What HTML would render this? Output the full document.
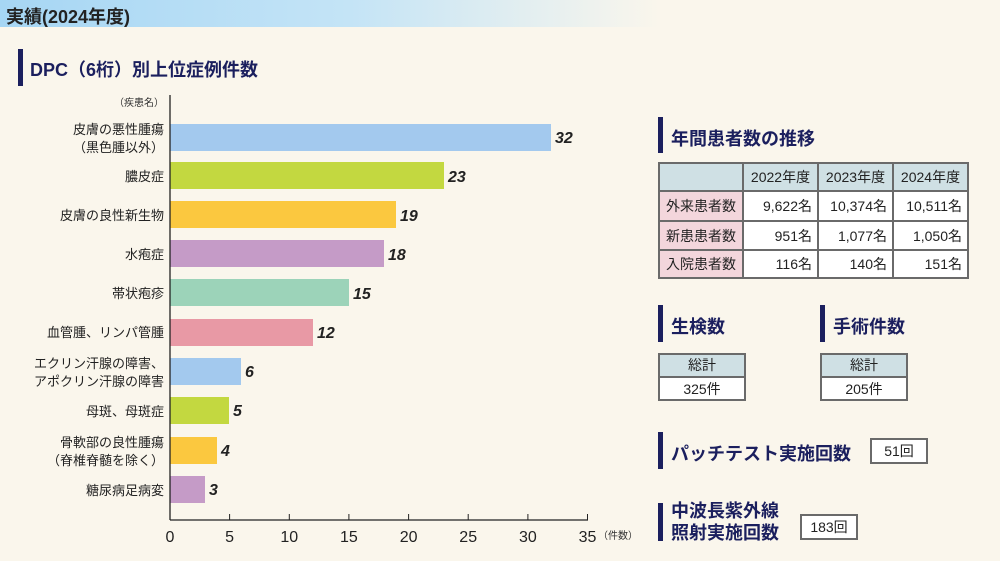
<!DOCTYPE html>
<html><head><meta charset="utf-8"><style>
body{margin:0;width:1000px;height:561px;background:#faf6ec;position:relative;overflow:hidden;font-family:"Liberation Sans","Noto Sans CJK JP",sans-serif;color:#222}
.a{position:absolute}
.hdr{left:0;top:0;width:1000px;height:27px;background:linear-gradient(90deg,#a6d6f4 0%,#c4e4f6 35%,#faf6ec 66%)}
.bar{position:absolute;width:5px;background:#1b1f5e}
.t{position:absolute;color:#1b1f5e;font-weight:bold;font-size:18px;white-space:nowrap}
table{border-collapse:collapse;font-size:14px}
td{border:2px solid #6a6a6a;height:26px;padding:0 5px;text-align:right;background:#fff}
.h td{background:#cfe0e4;text-align:center}
td.r{background:#f3d6dc;text-align:center}
.box{position:absolute;border:2px solid #6a6a6a;background:#fff;text-align:center;font-size:14px}
</style></head><body>
<div class="a hdr"></div>
<div class="a" style="left:6px;top:3px;font-size:18px;font-weight:bold;color:#222">実績(2024年度)</div>
<div class="bar" style="left:18px;top:49px;height:37px"></div>
<div class="t" style="left:30px;top:56px">DPC（6桁）別上位症例件数</div>

<svg class="a" style="left:0;top:0" width="640" height="561">
<g font-family="Liberation Sans,Noto Sans CJK JP,sans-serif">
<text x="164" y="106" font-size="10" text-anchor="end" fill="#333">（疾患名）</text>
<rect x="170" y="124" width="381" height="27" fill="#a3c9ee"/>
<rect x="170" y="162" width="274" height="27" fill="#c3d840"/>
<rect x="170" y="201" width="226" height="27" fill="#fbc83f"/>
<rect x="170" y="240" width="214" height="27" fill="#c59bc7"/>
<rect x="170" y="279" width="179" height="27" fill="#9cd3b9"/>
<rect x="170" y="319" width="143" height="27" fill="#e899a5"/>
<rect x="170" y="358" width="71" height="27" fill="#a3c9ee"/>
<rect x="170" y="397" width="59" height="27" fill="#c3d840"/>
<rect x="170" y="437" width="47" height="27" fill="#fbc83f"/>
<rect x="170" y="476" width="35" height="27" fill="#c59bc7"/>
<g font-size="16" font-weight="bold" font-style="italic" fill="#222">
<text x="555" y="143">32</text><text x="448" y="182">23</text><text x="400" y="221">19</text><text x="388" y="260">18</text><text x="353" y="299">15</text><text x="317" y="338">12</text><text x="245" y="377">6</text><text x="233" y="416">5</text><text x="221" y="456">4</text><text x="209" y="495">3</text></g>
<g font-size="13" text-anchor="end" fill="#222">
<text x="164" y="134">皮膚の悪性腫瘍</text><text x="164" y="152">（黒色腫以外）</text>
<text x="164" y="181">膿皮症</text><text x="164" y="220">皮膚の良性新生物</text><text x="164" y="259">水疱症</text><text x="164" y="298">帯状疱疹</text><text x="164" y="337">血管腫、リンパ管腫</text>
<text x="164" y="368">エクリン汗腺の障害、</text><text x="164" y="386">アポクリン汗腺の障害</text>
<text x="164" y="416">母斑、母斑症</text>
<text x="164" y="447">骨軟部の良性腫瘍</text><text x="164" y="465">（脊椎脊髄を除く）</text>
<text x="164" y="495">糖尿病足病変</text></g>
<line x1="170" y1="95" x2="170" y2="520" stroke="#222" stroke-width="1.3"/>
<line x1="170" y1="520" x2="588" y2="520" stroke="#222" stroke-width="1.3"/>
<g stroke="#222"><line x1="229.6" y1="514" x2="229.6" y2="520"/><line x1="289.3" y1="514" x2="289.3" y2="520"/><line x1="348.9" y1="514" x2="348.9" y2="520"/><line x1="408.6" y1="514" x2="408.6" y2="520"/><line x1="468.2" y1="514" x2="468.2" y2="520"/><line x1="527.9" y1="514" x2="527.9" y2="520"/><line x1="587.5" y1="514" x2="587.5" y2="520"/></g>
<g font-size="16" text-anchor="middle" fill="#222"><text x="170" y="542">0</text><text x="229.6" y="542">5</text><text x="289.3" y="542">10</text><text x="348.9" y="542">15</text><text x="408.6" y="542">20</text><text x="468.2" y="542">25</text><text x="527.9" y="542">30</text><text x="587.5" y="542">35</text></g>
<text x="598" y="539" font-size="10" fill="#333">（件数）</text>
</g></svg>

<div class="bar" style="left:658px;top:117px;height:36px"></div>
<div class="t" style="left:671px;top:125px">年間患者数の推移</div>
<table class="a" style="left:658px;top:162px;width:311px">
<tr class="h" style="height:26px"><td style="width:72px"></td><td>2022年度</td><td>2023年度</td><td>2024年度</td></tr>
<tr style="height:30px"><td class="r">外来患者数</td><td>9,622名</td><td>10,374名</td><td>10,511名</td></tr>
<tr style="height:29px"><td class="r">新患患者数</td><td>951名</td><td>1,077名</td><td>1,050名</td></tr>
<tr style="height:28px"><td class="r">入院患者数</td><td>116名</td><td>140名</td><td>151名</td></tr>
</table>

<div class="bar" style="left:658px;top:305px;height:37px"></div>
<div class="t" style="left:671px;top:313px">生検数</div>
<div class="bar" style="left:820px;top:305px;height:37px"></div>
<div class="t" style="left:833px;top:313px">手術件数</div>
<div class="box" style="left:658px;top:353px;width:84px;height:44px"><div style="background:#cfe0e4;height:21px;line-height:21px;border-bottom:2px solid #6a6a6a">総計</div><div style="line-height:22px">325件</div></div>
<div class="box" style="left:820px;top:353px;width:84px;height:44px"><div style="background:#cfe0e4;height:21px;line-height:21px;border-bottom:2px solid #6a6a6a">総計</div><div style="line-height:22px">205件</div></div>

<div class="bar" style="left:658px;top:432px;height:37px"></div>
<div class="t" style="left:671px;top:440px">パッチテスト実施回数</div>
<div class="box" style="left:870px;top:438px;width:54px;height:22px;line-height:22px">51回</div>

<div class="bar" style="left:658px;top:503px;height:38px"></div>
<div class="t" style="left:671px;top:500px;line-height:22px">中波長紫外線<br>照射実施回数</div>
<div class="box" style="left:800px;top:514px;width:54px;height:22px;line-height:22px">183回</div>
</body></html>
